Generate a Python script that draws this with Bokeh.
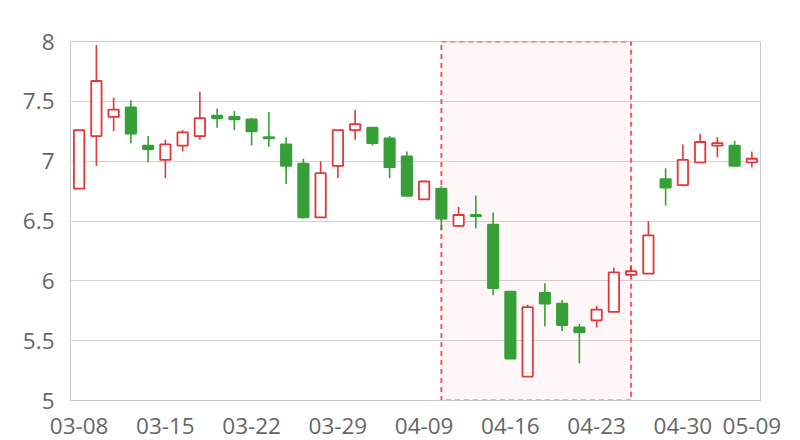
from bokeh.plotting import figure
from bokeh.models import FixedTicker, Range1d, ColumnDataSource
from bokeh.embed import file_html
from bokeh.resources import INLINE

dates = ["03-08", "03-09", "03-12", "03-13", "03-14", "03-15", "03-16", "03-19", "03-20", "03-21",
         "03-22", "03-23", "03-26", "03-27", "03-28", "03-29", "03-30", "04-02", "04-03", "04-04",
         "04-09", "04-10", "04-11", "04-12", "04-13", "04-16", "04-17", "04-18", "04-19", "04-20",
         "04-23", "04-24", "04-25", "04-26", "04-27", "04-30", "05-02", "05-03", "05-08", "05-09"]
opens = [6.77, 7.21, 7.37, 7.45, 7.13, 7.01, 7.13, 7.21, 7.38, 7.37,
         7.35, 7.20, 7.14, 6.98, 6.53, 6.96, 7.26, 7.28, 7.19, 7.04,
         6.68, 6.77, 6.46, 6.55, 6.47, 5.91, 5.20, 5.90, 5.81, 5.61,
         5.67, 5.74, 6.05, 6.06, 6.85, 6.80, 6.99, 7.13, 7.13, 6.99]
closes = [7.26, 7.67, 7.43, 7.23, 7.10, 7.14, 7.24, 7.36, 7.36, 7.35,
          7.25, 7.19, 6.96, 6.53, 6.90, 7.26, 7.31, 7.15, 6.95, 6.71,
          6.83, 6.52, 6.55, 6.54, 5.94, 5.35, 5.78, 5.81, 5.63, 5.57,
          5.76, 6.07, 6.08, 6.38, 6.78, 7.01, 7.16, 7.15, 6.96, 7.02]
highs = [7.26, 7.97, 7.53, 7.51, 7.21, 7.18, 7.26, 7.58, 7.44, 7.42,
         7.36, 7.41, 7.20, 7.02, 7.00, 7.26, 7.43, 7.28, 7.21, 7.08,
         6.83, 6.79, 6.62, 6.71, 6.57, 5.91, 5.80, 5.98, 5.84, 5.64,
         5.79, 6.11, 6.13, 6.50, 6.94, 7.14, 7.23, 7.20, 7.17, 7.08]
lows = [6.77, 6.96, 7.25, 7.15, 6.99, 6.86, 7.08, 7.18, 7.28, 7.26,
        7.13, 7.12, 6.81, 6.52, 6.53, 6.86, 7.18, 7.13, 6.86, 6.71,
        6.68, 6.42, 6.45, 6.44, 5.88, 5.35, 5.20, 5.62, 5.58, 5.31,
        5.61, 5.74, 6.03, 6.06, 6.63, 6.79, 6.99, 7.03, 6.96, 6.95]
y_ticks = [5, 5.5, 6, 6.5, 7, 7.5, 8]
x_tick_idx = [0, 5, 10, 15, 20, 25, 30, 35, 39]
area_start, area_end = "04-10", "04-25"

RED = "#e3363b"
GREEN = "#379f37"
FONT = "Open Sans"

idx = list(range(len(dates)))
up = [c >= o for o, c in zip(opens, closes)]
colors = [RED if u else GREEN for u in up]
fills = ["white" if u else GREEN for u in up]
src = ColumnDataSource(dict(
    x=idx, o=opens, c=closes, h=highs, l=lows,
    top=[max(o, c) for o, c in zip(opens, closes)],
    bot=[min(o, c) for o, c in zip(opens, closes)],
    col=colors, fill=fills))

p = figure(width=800, height=440, output_backend="svg", toolbar_location=None,
           x_range=Range1d(-0.5, len(dates) - 0.5), y_range=Range1d(5, 8),
           min_border_left=70, min_border_right=40, min_border_top=41, min_border_bottom=40)
p.outline_line_color = "#cccccc"
p.background_fill_color = "white"

# mark area
i0, i1 = dates.index(area_start), dates.index(area_end)
p.quad(left=[i0], right=[i1], top=[8], bottom=[5], fill_color="#ff4d4d", fill_alpha=0.045,
       line_color="#f5585d", line_width=2, line_dash="5 4")

p.segment(x0="x", y0="h", x1="x", y1="l", source=src, line_color="col", line_width=1.6)
p.vbar(x="x", top="top", bottom="bot", width=0.6, source=src, fill_color="fill",
       line_color="col", line_width=1.8)

p.xgrid.visible = False
p.ygrid.grid_line_color = "#d4d4d4"
p.ygrid.grid_line_width = 1

p.xaxis.ticker = FixedTicker(ticks=x_tick_idx)
p.xaxis.major_label_overrides = {i: dates[i] for i in x_tick_idx}
p.yaxis.ticker = FixedTicker(ticks=y_ticks)
p.yaxis.major_label_overrides = {t: ("%g" % t) for t in y_ticks}

for ax in (p.xaxis, p.yaxis):
    ax.axis_line_color = "#c8c8c8"
    ax.major_tick_line_color = None
    ax.minor_tick_line_color = None
    ax.major_label_text_font = FONT
    ax.major_label_text_font_size = "22.5px"
    ax.major_label_text_color = "#666666"
p.xaxis.major_label_standoff = 11
p.yaxis.major_label_standoff = 10

open("out.html", "w").write(file_html(p, INLINE))
